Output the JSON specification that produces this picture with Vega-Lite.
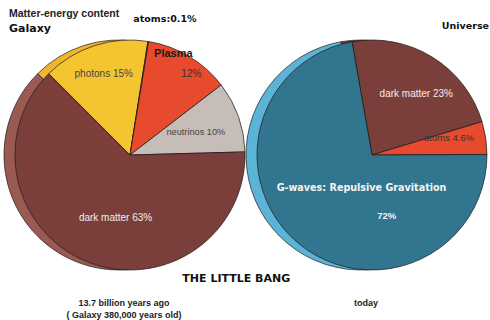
{
  "$schema": "https://vega.github.io/schema/vega-lite/v6.json",
  "background": "white",
  "padding": {"left": 2, "top": 9, "right": 0, "bottom": 0},
  "autosize": {"type": "pad"},
  "config": {"view": {"stroke": null}, "font": "Liberation Sans"},
  "title": {"text": "THE LITTLE BANG", "orient": "bottom", "offset": -47, "anchor": "middle", "dx": -10, "font": "DejaVu Sans", "fontSize": 11, "fontWeight": "bold", "color": "#111111"},
  "spacing": 3,
  "vconcat": [
    {
      "bounds": "flush",
      "spacing": 6,
      "hconcat": [
        {
          "width": 236,
          "height": 250,
          "title": {"text": "Matter-energy content", "subtitle": "Galaxy", "anchor": "start", "frame": "group", "offset": -20, "dx": -3, "font": "Liberation Sans", "fontSize": 10.5, "fontWeight": "bold", "color": "#222222", "subtitleFont": "DejaVu Sans", "subtitleFontSize": 11, "subtitleFontWeight": "bold", "subtitleColor": "#111111", "subtitlePadding": 3},
          "data": {"values": [
            {"cat": "photons", "value": 15, "ord": 1, "label": "photons 15%"},
            {"cat": "atoms", "value": 0.1, "ord": 2, "label": "atoms:0.1%"},
            {"cat": "plasma", "value": 12, "ord": 3, "label": "12%"},
            {"cat": "neutrinos", "value": 10, "ord": 4, "label": "neutrinos 10%"},
            {"cat": "dark matter", "value": 63, "ord": 5, "label": "dark matter 63%"}
          ]},
          "encoding": {
            "theta": {"field": "value", "type": "quantitative", "stack": true, "scale": {"range": [-0.785, 5.498]}},
            "order": {"field": "ord", "type": "quantitative"}
          },
          "layer": [
            {"mark": {"type": "arc", "radius": 115, "xOffset": -11, "stroke": "#1a1a1a", "strokeWidth": 0.7},
             "encoding": {"fill": {"condition": [{"test": "datum.cat === 'photons'", "value": "#f0b52c"}], "value": "#9a5a52"}}},
            {"mark": {"type": "arc", "radius": 115, "stroke": "#1a1a1a", "strokeWidth": 0.7},
             "encoding": {"fill": {"field": "cat", "type": "nominal", "legend": null,
               "scale": {"domain": ["photons", "atoms", "plasma", "neutrinos", "dark matter", "G-waves"], "range": ["#f5c431", "#e84a2d", "#e84a2d", "#c6bdb9", "#7b3f3b", "#31758f"]}}}},
            {"mark": {"type": "text", "radius": 85, "fontSize": 10, "fill": "#444444", "baseline": "middle"},
             "encoding": {"text": {"condition": {"test": "datum.cat === 'photons'", "field": "label"}, "value": ""}}},
            {"mark": {"type": "text", "radius": 138, "dx": 13, "font": "DejaVu Sans", "fontWeight": "bold", "fontSize": 9.5, "fill": "#111111", "baseline": "middle"},
             "encoding": {"text": {"condition": {"test": "datum.cat === 'atoms'", "field": "label"}, "value": ""}}},
            {"mark": {"type": "text", "radius": 100, "dx": 10, "dy": 5, "fontSize": 10, "fill": "#333333", "baseline": "middle"},
             "encoding": {"text": {"condition": {"test": "datum.cat === 'plasma'", "field": "label"}, "value": ""}}},
            {"mark": {"type": "text", "radius": 100, "dx": -8, "dy": -15, "fontSize": 11, "fontWeight": "bold", "fill": "#1a1a1a", "baseline": "middle"},
             "encoding": {"text": {"condition": {"test": "datum.cat === 'plasma'", "value": "Plasma"}, "value": ""}}},
            {"mark": {"type": "text", "radius": 72, "dx": -2, "dy": 1, "fontSize": 9.2, "fill": "#444444", "baseline": "middle"},
             "encoding": {"text": {"condition": {"test": "datum.cat === 'neutrinos'", "field": "label"}, "value": ""}}},
            {"mark": {"type": "text", "radius": 66, "dx": 10, "dy": 2, "fontSize": 10, "fill": "#f2ecea", "baseline": "middle"},
             "encoding": {"text": {"condition": {"test": "datum.cat === 'dark matter'", "field": "label"}, "value": ""}}}
          ]
        },
        {
          "width": 236,
          "height": 250,
          "title": {"text": "Universe", "anchor": "end", "frame": "group", "offset": 0, "dx": -1, "font": "DejaVu Sans", "fontSize": 9.5, "fontWeight": "bold", "color": "#111111"},
          "data": {"values": [
            {"cat": "dark matter", "value": 23, "ord": 1, "label": "dark matter 23%"},
            {"cat": "atoms", "value": 4.6, "ord": 2, "label": "atoms 4.6%"},
            {"cat": "G-waves", "value": 72, "ord": 3, "label": "72%"}
          ]},
          "encoding": {
            "theta": {"field": "value", "type": "quantitative", "stack": true, "scale": {"range": [-0.1745, 6.1087]}},
            "order": {"field": "ord", "type": "quantitative"}
          },
          "layer": [
            {"mark": {"type": "arc", "radius": 115, "xOffset": -11, "stroke": "#1a1a1a", "strokeWidth": 0.7},
             "encoding": {"fill": {"condition": [{"test": "datum.cat === 'dark matter'", "value": "#6e3833"}], "value": "#5bb4d8"}}},
            {"mark": {"type": "arc", "radius": 115, "stroke": "#1a1a1a", "strokeWidth": 0.7},
             "encoding": {"fill": {"field": "cat", "type": "nominal", "legend": null,
               "scale": {"domain": ["photons", "atoms", "plasma", "neutrinos", "dark matter", "G-waves"], "range": ["#f5c431", "#e84a2d", "#e84a2d", "#c6bdb9", "#7b3f3b", "#31758f"]}}}},
            {"mark": {"type": "text", "radius": 75, "dx": 5, "dy": 3, "fontSize": 10, "fill": "#f2ecea", "baseline": "middle"},
             "encoding": {"text": {"condition": {"test": "datum.cat === 'dark matter'", "field": "label"}, "value": ""}}},
            {"mark": {"type": "text", "radius": 77, "dy": -6, "dx": 1, "fontSize": 9.5, "fill": "#333333", "baseline": "middle"},
             "encoding": {"text": {"condition": {"test": "datum.cat === 'atoms'", "field": "label"}, "value": ""}}},
            {"mark": {"type": "text", "radius": 35, "dx": 12, "dy": 6, "font": "DejaVu Sans", "fontWeight": "bold", "fontSize": 9.6, "fill": "#f4f4f4", "baseline": "middle"},
             "encoding": {"text": {"condition": {"test": "datum.cat === 'G-waves'", "value": "G-waves: Repulsive Gravitation"}, "value": ""}}},
            {"mark": {"type": "text", "radius": 55, "dx": 50, "dy": 19, "fontWeight": "bold", "fontSize": 9.5, "fill": "#f4f4f4", "baseline": "middle"},
             "encoding": {"text": {"condition": {"test": "datum.cat === 'G-waves'", "field": "label"}, "value": ""}}}
          ]
        }
      ]
    },
    {
      "spacing": 6,
      "hconcat": [
        {
          "width": 236,
          "height": 24,
          "data": {"values": [{"caption": "13.7 billion years ago\n( Galaxy 380,000 years old)"}]},
          "mark": {"type": "text", "lineBreak": "\n", "lineHeight": 12, "dx": -6, "fontSize": 9, "fontWeight": "bold", "fill": "#222222", "baseline": "middle"},
          "encoding": {"text": {"field": "caption"}}
        },
        {
          "width": 236,
          "height": 24,
          "data": {"values": [{"caption": "today\n "}]},
          "mark": {"type": "text", "lineBreak": "\n", "lineHeight": 12, "dx": -6, "fontSize": 9, "fontWeight": "bold", "fill": "#222222", "baseline": "middle"},
          "encoding": {"text": {"field": "caption"}}
        }
      ]
    }
  ]
}
